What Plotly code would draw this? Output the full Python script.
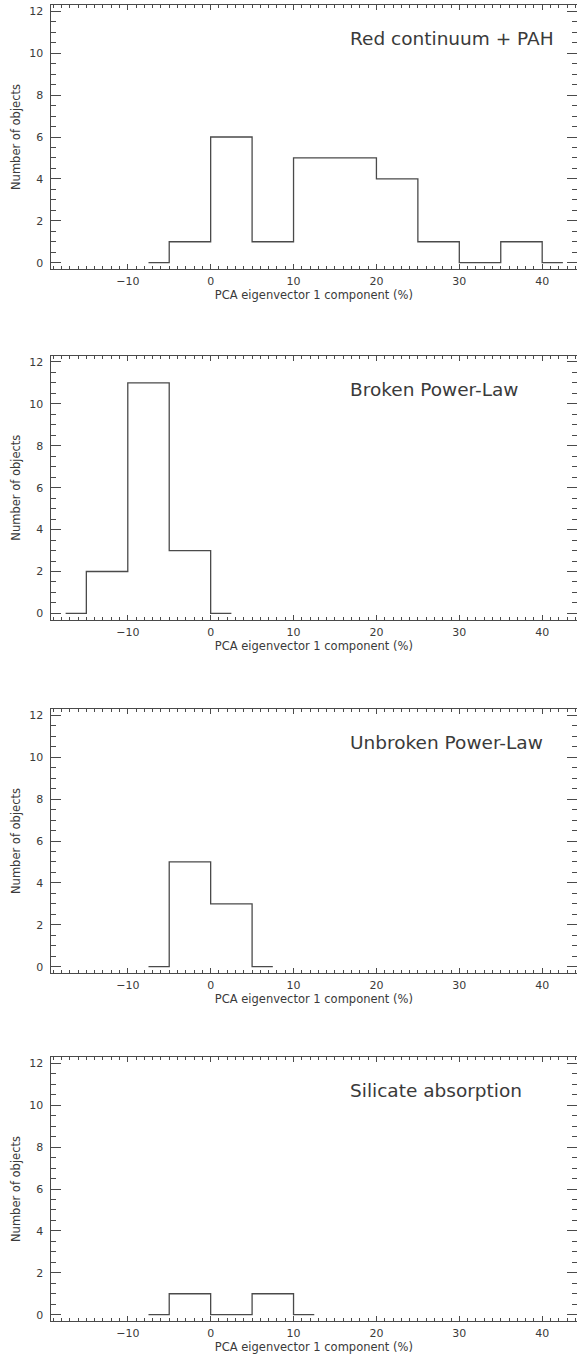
import plotly.graph_objects as go

# Histogram data (bin centres, psym=10 style steps)
labels = ["Red continuum + PAH", "Broken Power-Law", "Unbroken Power-Law", "Silicate absorption"]

x_red = [-7.5, -2.5, 2.5, 7.5, 12.5, 17.5, 22.5, 27.5, 32.5, 37.5, 42.5]
y_red = [0, 1, 6, 1, 5, 5, 4, 1, 0, 1, 0]

x_bpl = [-17.5, -12.5, -7.5, -2.5, 2.5]
y_bpl = [0, 2, 11, 3, 0]

x_upl = [-7.5, -2.5, 2.5, 7.5]
y_upl = [0, 5, 3, 0]

x_sil = [-7.5, -2.5, 2.5, 7.5, 12.5]
y_sil = [0, 1, 0, 1, 0]

x_ticks = [-10, 0, 10, 20, 30, 40]
y_ticks = [0, 2, 4, 6, 8, 10, 12]

xs = [x_red, x_bpl, x_upl, x_sil]
ys = [y_red, y_bpl, y_upl, y_sil]

W, H = 577, 1360
LINE = "#4a4a4a"
TXT = "#3a3a3a"
FONT = "DejaVu Sans"

fig = go.Figure()
layout = dict(
    width=W, height=H, margin=dict(l=0, r=0, t=0, b=0),
    paper_bgcolor="white", plot_bgcolor="white", showlegend=False,
    font=dict(family=FONT, color=TXT, size=11),
)

left_px = 50.7
tops = [5, 355.7, 709, 1057]
ph = 264

annotations = []
for i in range(4):
    T = tops[i]
    B = T + ph
    xa = "xaxis" if i == 0 else f"xaxis{i+1}"
    ya = "yaxis" if i == 0 else f"yaxis{i+1}"
    xr = "x" if i == 0 else f"x{i+1}"
    yr = "y" if i == 0 else f"y{i+1}"
    fig.add_trace(go.Scatter(x=xs[i], y=ys[i], mode="lines", line=dict(color=LINE, width=1.3, shape="hvh"),
                             xaxis=xr, yaxis=yr, hoverinfo="skip"))
    layout[xa] = dict(
        domain=[left_px / W, 1.0], range=[-19.3, 44.2], anchor=yr,
        tickvals=x_ticks, ticks="inside", ticklen=5, tickcolor=LINE, tickwidth=1,
        minor=dict(ticks="inside", ticklen=3, dtick=1, tick0=0, tickcolor=LINE, tickwidth=1),
        showline=True, linecolor=LINE, linewidth=1.3, mirror="allticks",
        showgrid=False, zeroline=False, tickfont=dict(size=11, color=TXT),
        ticklabelstandoff=2,
        title=dict(text="PCA eigenvector 1 component (%)", font=dict(size=11.5, color=TXT), standoff=0),
    )
    layout[ya] = dict(
        domain=[1 - B / H, 1 - T / H], range=[-0.3, 12.3], anchor=xr,
        tickvals=y_ticks, ticks="inside", ticklen=10, tickcolor=LINE, tickwidth=1,
        minor=dict(ticks="inside", ticklen=5, dtick=0.5, tick0=0, tickcolor=LINE, tickwidth=1),
        showline=True, linecolor=LINE, linewidth=1.3, mirror="allticks",
        showgrid=False, zeroline=False, tickfont=dict(size=11, color=TXT),
        ticklabelstandoff=4,
        title=dict(text="Number of objects", font=dict(size=11.5, color=TXT), standoff=6),
    )
    annotations.append(dict(x=16.6, y=10.7, xref=xr, yref=yr, text=labels[i], showarrow=False,
                            xanchor="left", yanchor="middle", font=dict(size=18.5, color=TXT, family=FONT)))

layout["annotations"] = annotations
fig.update_layout(**layout)
fig.write_html("out.html")
